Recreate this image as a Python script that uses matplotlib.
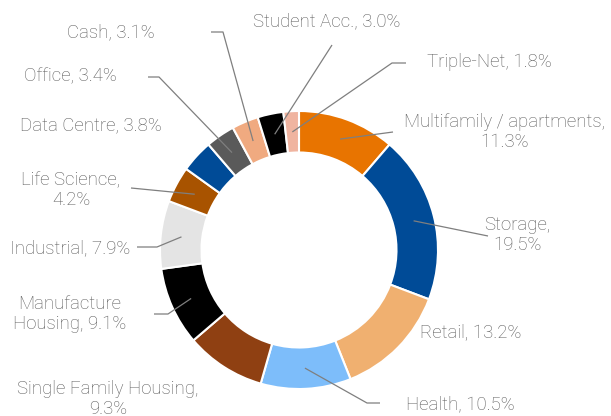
import numpy as np
import matplotlib
matplotlib.use("Agg")
import matplotlib.pyplot as plt

W, H = 611, 416

labels = ["Multifamily / apartments,\n11.3%", "Storage,\n19.5%", "Retail, 13.2%",
          "Health, 10.5%", "Single Family Housing,\n9.3%", "Manufacture\nHousing, 9.1%",
          "Industrial, 7.9%", "Life Science,\n4.2%", "Data Centre, 3.8%", "Office, 3.4%",
          "Cash, 3.1%", "Student Acc., 3.0%", "Triple-Net, 1.8%"]
values = [11.3, 19.5, 13.2, 10.5, 9.3, 9.1, 7.9, 4.2, 3.8, 3.4, 3.1, 3.0, 1.8]
colors = ["#E87400", "#004B97", "#F0B070", "#7DBDFA", "#8F4012", "#000000",
          "#E4E4E4", "#A85300", "#004B97", "#5A5A5A", "#F0AA80", "#000000", "#F0B4A0"]

# label centre positions (pixels, from top-left)
label_pos = [(505, 132), (517, 235), (471, 332), (460, 404), (108, 399), (70, 314),
             (70, 248), (71, 190), (91, 125), (70, 76), (111, 32), (327, 21), (489, 62)]
# leader path after the wedge point: knee, then end (None = no leader)
leaders = [[(393, 132)], [(488, 236)], None, [(367, 403), (380, 403)], None,
           [(168, 314), (154, 314)], [(157, 247), (137, 247)], [(131, 188)], None,
           [(159, 77), (148, 77)], [(223, 32), (211, 32)], [(332, 45)],
           [(392, 63), (406, 63)]]

cx, cy, R, ring = 299, 250, 139, 41.5

fig = plt.figure(figsize=(W / 100, H / 100), dpi=100)
ax = fig.add_axes([0, 0, 1, 1])
wedges, _ = ax.pie(values, colors=colors, center=(cx, H - cy), radius=R,
                   startangle=90, counterclock=False, frame=True,
                   wedgeprops=dict(width=ring, edgecolor="white", linewidth=1.5))
ax.set_xlim(0, W)
ax.set_ylim(0, H)
ax.set_aspect("equal")
ax.axis("off")

rm = R - ring / 2
for w, lab, pos, ld in zip(wedges, labels, label_pos, leaders):
    if ld is not None:
        mid = np.deg2rad((w.theta1 + w.theta2) / 2)
        xs = [cx + rm * np.cos(mid)] + [p[0] for p in ld]
        ys = [H - cy + rm * np.sin(mid)] + [H - p[1] for p in ld]
        ax.plot(xs, ys, color="#7F7F7F", lw=0.9, solid_capstyle="butt")
    ax.text(pos[0], H - pos[1], lab, ha="center", va="center", fontsize=13.4,
            family="Roboto", fontweight="light", color="#595959", linespacing=1.15)

fig.savefig("out.png", dpi=100)
